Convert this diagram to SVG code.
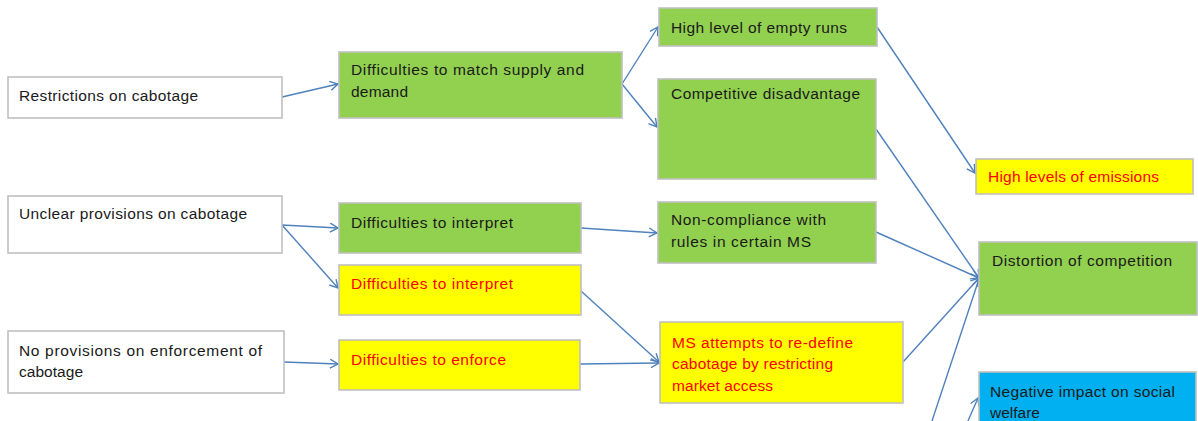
<svg xmlns="http://www.w3.org/2000/svg" width="1198" height="421" viewBox="0 0 1198 421">
  <style>
    .box { stroke: #C0C0C0; stroke-width: 1.6; }
    .white { fill: #FFFFFF; }
    .green { fill: #92D050; }
    .yellow { fill: #FFFF00; }
    .blue { fill: #00B0F0; }
    text { font-family: "Liberation Sans", Arial, sans-serif; font-size: 15.5px; fill: #1A1A1A; }
    text.red { fill: #FF0000; }
    .link { stroke: #4F81BD; stroke-width: 1.4; fill: none; marker-end: url(#arrow); }
  </style>
  <defs>
    <marker id="arrow" markerUnits="userSpaceOnUse" markerWidth="12" markerHeight="12" refX="9" refY="5" orient="auto">
      <path d="M1,0.5 L9,5 L1,9.5" fill="none" stroke="#4F81BD" stroke-width="1.4"/>
    </marker>
  </defs>
  <rect width="1198" height="421" fill="#FFFFFF"/>

  <!-- connectors -->
  <g id="connectors">
    <line class="link" x1="282" y1="97" x2="338" y2="84"/>
    <line class="link" x1="622" y1="84" x2="658" y2="27"/>
    <line class="link" x1="622" y1="84" x2="657" y2="127"/>
    <line class="link" x1="877" y1="27" x2="975" y2="173"/>
    <line class="link" x1="876" y1="129" x2="979" y2="278"/>
    <line class="link" x1="282" y1="225" x2="338" y2="228"/>
    <line class="link" x1="282" y1="225" x2="338" y2="288"/>
    <line class="link" x1="581" y1="228" x2="657" y2="233"/>
    <line class="link" x1="876" y1="232" x2="979" y2="278"/>
    <line class="link" x1="581" y1="291" x2="659" y2="362"/>
    <line class="link" x1="284" y1="362" x2="338" y2="364"/>
    <line class="link" x1="580" y1="364" x2="659" y2="363"/>
    <line class="link" x1="903" y1="362" x2="979" y2="278"/>
    <line class="link" x1="929" y1="430" x2="979" y2="279"/>
    <line class="link" x1="964" y1="430" x2="978" y2="398"/>
  </g>

  <g id="restrictions">
    <rect class="box white" x="8" y="77" width="274" height="41"/>
    <text x="19" y="101" textLength="179">Restrictions on cabotage</text>
  </g>
  <g id="match-supply">
    <rect class="box green" x="339" y="52" width="283" height="66"/>
    <text x="351" y="75" textLength="233">Difficulties to match supply and</text>
    <text x="351" y="97" textLength="57">demand</text>
  </g>
  <g id="empty-runs">
    <rect class="box green" x="659" y="8" width="218" height="38"/>
    <text x="671" y="33" textLength="176">High level of empty runs</text>
  </g>
  <g id="competitive-disadvantage">
    <rect class="box green" x="658" y="79" width="218" height="100"/>
    <text x="671" y="99" textLength="189">Competitive disadvantage</text>
  </g>
  <g id="emissions">
    <rect class="box yellow" x="976" y="159" width="217" height="35"/>
    <text class="red" x="988" y="182" textLength="171">High levels of emissions</text>
  </g>
  <g id="unclear-provisions">
    <rect class="box white" x="8" y="196" width="274" height="57"/>
    <text x="19" y="219" textLength="228">Unclear provisions on cabotage</text>
  </g>
  <g id="interpret-green">
    <rect class="box green" x="339" y="203" width="242" height="50"/>
    <text x="351" y="228" textLength="162">Difficulties to interpret</text>
  </g>
  <g id="interpret-yellow">
    <rect class="box yellow" x="339" y="265" width="242" height="50"/>
    <text class="red" x="351" y="289" textLength="162">Difficulties to interpret</text>
  </g>
  <g id="no-enforcement">
    <rect class="box white" x="8" y="331" width="276" height="62"/>
    <text x="19" y="356" textLength="243">No provisions on enforcement of</text>
    <text x="19" y="377" textLength="64">cabotage</text>
  </g>
  <g id="enforce">
    <rect class="box yellow" x="339" y="340" width="241" height="50"/>
    <text class="red" x="351" y="365" textLength="155">Difficulties to enforce</text>
  </g>
  <g id="non-compliance">
    <rect class="box green" x="658" y="202" width="218" height="61"/>
    <text x="671" y="225" textLength="155">Non-compliance with</text>
    <text x="671" y="247" textLength="140">rules in certain MS</text>
  </g>
  <g id="distortion">
    <rect class="box green" x="979" y="242" width="218" height="73"/>
    <text x="992" y="266" textLength="180">Distortion of competition</text>
  </g>
  <g id="redefine">
    <rect class="box yellow" x="660" y="322" width="243" height="81"/>
    <text class="red" x="672" y="348" textLength="181">MS attempts to re-define</text>
    <text class="red" x="672" y="369" textLength="161">cabotage by restricting</text>
    <text class="red" x="672" y="391" textLength="101">market access</text>
  </g>
  <g id="social-welfare">
    <rect class="box blue" x="979" y="372" width="217" height="60"/>
    <text x="990" y="397" textLength="185">Negative impact on social</text>
    <text x="990" y="418">welfare</text>
  </g>
</svg>
